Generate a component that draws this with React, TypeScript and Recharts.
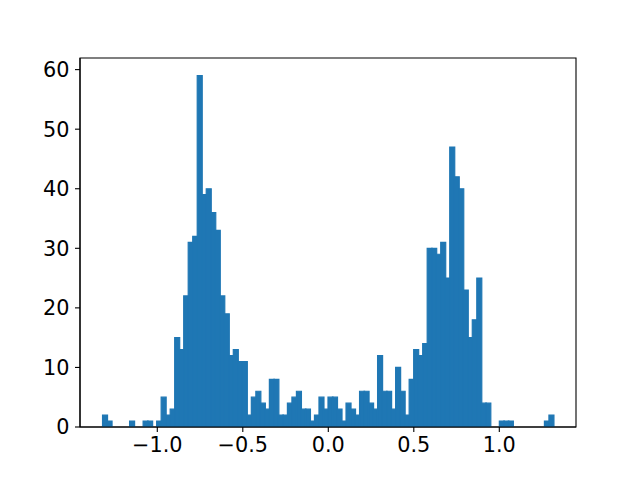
import { Bar, BarChart, ReferenceArea, XAxis, YAxis } from "recharts"

// histogram: 100 equal bins between these edges
const HIST_MIN = -1.3202
const HIST_MAX = 1.3166

const counts = [
  2, 1, 0, 0, 0, 0, 1, 0, 0, 1,
  1, 0, 1, 5, 2, 3, 15, 13, 22, 31,
  32, 59, 39, 40, 36, 33, 22, 19, 12, 13,
  11, 11, 2, 5, 6, 4, 3, 8, 8, 2,
  2, 4, 5, 6, 3, 3, 1, 2, 5, 3,
  5, 5, 3, 1, 4, 3, 2, 6, 6, 4,
  3, 12, 6, 6, 3, 10, 6, 2, 8, 13,
  12, 14, 30, 30, 29, 31, 25, 47, 42, 40,
  23, 15, 18, 25, 4, 4, 0, 0, 1, 1,
  1, 0, 0, 0, 0, 0, 0, 0, 1, 2,
]

const xTicks = [-1, -0.5, 0, 0.5, 1]
const yTicks = [0, 10, 20, 30, 40, 50, 60]

const X_DOMAIN: [number, number] = [-1.452, 1.4485]
const Y_DOMAIN: [number, number] = [0, 61.95]

const binWidth = (HIST_MAX - HIST_MIN) / counts.length
const data = counts.map((count, i) => ({
  x: HIST_MIN + (i + 0.5) * binWidth,
  count,
}))

const tickStyle = { fontFamily: "DejaVu Sans", fontSize: 20.8, fill: "#000" }
const axisLine = { stroke: "#000", strokeWidth: 1.1 }

const fmt = (v: number) => (v < 0 ? "\u2212" + Math.abs(v).toFixed(1) : v.toFixed(1))

export default function App() {
  return (
    <div style={{ position: "absolute", left: 0, top: 0, background: "#fff" }}>
      <BarChart
        width={640}
        height={480}
        data={data}
        barCategoryGap={0}
        barGap={0}
        margin={{ top: 58, right: 64, bottom: 0, left: 0 }}
      >
        <XAxis
          type="number"
          dataKey="x"
          domain={X_DOMAIN}
          allowDataOverflow
          ticks={xTicks}
          tickFormatter={fmt}
          height={53}
          tick={tickStyle}
          tickSize={5}
          tickMargin={5}
          axisLine={axisLine}
          tickLine={axisLine}
        />
        <YAxis
          domain={Y_DOMAIN}
          ticks={yTicks}
          width={80}
          tick={tickStyle}
          tickSize={5}
          tickMargin={5.5}
          axisLine={axisLine}
          tickLine={axisLine}
          allowDataOverflow
        />
        <Bar
          dataKey="count"
          fill="#1f77b4"
          stroke="#1f77b4"
          strokeWidth={1.2}
          isAnimationActive={false}
        />
        <ReferenceArea
          x1={X_DOMAIN[0]}
          x2={X_DOMAIN[1]}
          y1={Y_DOMAIN[0]}
          y2={Y_DOMAIN[1]}
          fill="none"
          stroke="#000"
          strokeWidth={1.1}
          ifOverflow="visible"
        />
      </BarChart>
    </div>
  )
}
